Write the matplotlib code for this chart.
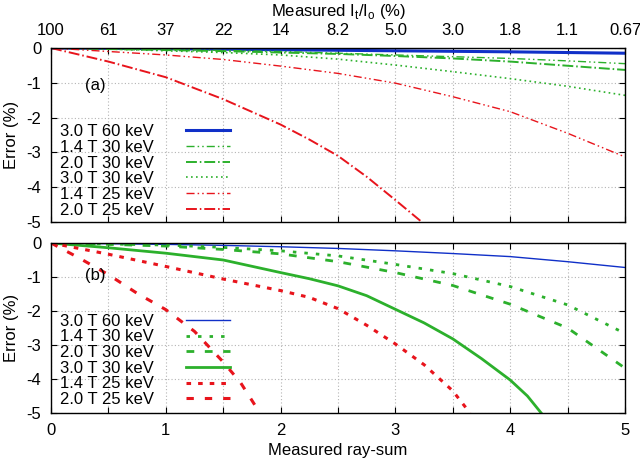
import matplotlib
matplotlib.use("Agg")
import matplotlib.pyplot as plt
from matplotlib.ticker import MultipleLocator

plt.rcParams['font.family'] = ['Liberation Sans', 'DejaVu Sans']
plt.rcParams['axes.unicode_minus'] = False

# ---------------- data ----------------
x_common = [0, 0.5, 1, 1.5, 2, 2.5, 3, 3.5, 4, 4.5, 5]

labels = ["3.0 T 60 keV", "1.4 T 30 keV", "2.0 T 30 keV",
          "3.0 T 30 keV", "1.4 T 25 keV", "2.0 T 25 keV"]

top_tick_positions = [0, 0.5, 1, 1.5, 2, 2.5, 3, 3.5, 4, 4.5, 5]
top_tick_labels = ["100", "61", "37", "22", "14", "8.2", "5.0", "3.0", "1.8", "1.1", "0.67"]

# panel (a)
a_3T_60 = [0, -0.01, -0.02, -0.035, -0.05, -0.065, -0.08, -0.095, -0.11, -0.13, -0.15]
a_14T_30 = [0, -0.02, -0.04, -0.07, -0.10, -0.15, -0.20, -0.25, -0.30, -0.37, -0.45]
a_2T_30 = [0, -0.03, -0.06, -0.09, -0.13, -0.17, -0.23, -0.30, -0.39, -0.51, -0.63]
a_3T_30 = [0, -0.03, -0.08, -0.13, -0.20, -0.32, -0.49, -0.68, -0.88, -1.10, -1.36]
a_14T_25 = [0, -0.10, -0.20, -0.33, -0.52, -0.73, -1.01, -1.40, -1.83, -2.45, -3.13]
a_2T_25_x = [0, 0.5, 1, 1.5, 2, 2.25, 2.5, 2.75, 3, 3.23]
a_2T_25 = [0, -0.39, -0.84, -1.47, -2.20, -2.63, -3.10, -3.70, -4.37, -5.0]

# panel (b)
b_3T_60 = [0, -0.02, -0.04, -0.07, -0.11, -0.16, -0.23, -0.31, -0.40, -0.55, -0.72]
b_14T_30 = [0, -0.03, -0.06, -0.13, -0.23, -0.38, -0.63, -0.90, -1.28, -1.82, -2.66]
b_2T_30 = [0, -0.04, -0.09, -0.19, -0.32, -0.55, -0.87, -1.25, -1.80, -2.50, -3.68]
b_3T_30_x = [0, 0.5, 1, 1.5, 2, 2.25, 2.5, 2.75, 3, 3.25, 3.5, 3.75, 4, 4.15, 4.27]
b_3T_30 = [0, -0.14, -0.30, -0.50, -0.87, -1.05, -1.26, -1.55, -1.95, -2.35, -2.82, -3.40, -4.03, -4.50, -5.0]
b_14T_25_x = [0, 0.5, 1, 1.5, 2, 2.25, 2.5, 2.75, 3, 3.25, 3.5, 3.65]
b_14T_25 = [0, -0.33, -0.69, -1.06, -1.40, -1.60, -1.93, -2.42, -2.97, -3.58, -4.35, -5.0]
b_2T_25_x = [0, 0.25, 0.5, 0.75, 1, 1.25, 1.5, 1.65, 1.82]
b_2T_25 = [0, -0.45, -0.93, -1.48, -1.96, -2.60, -3.50, -4.10, -5.0]

# ---------------- styles ----------------
BLUE = '#1030c8'
GREEN = '#2cb02c'
RED = '#e8141c'

fig = plt.figure(figsize=(6.4, 4.62), dpi=100)
ax1 = fig.add_axes([51/640, 1-222/462, 574/640, 174/462])
ax2 = fig.add_axes([51/640, 1-413/462, 574/640, 170/462])

FS = 12

def style_axes(ax):
    ax.set_xlim(0, 5)
    ax.set_ylim(-5, 0)
    ax.xaxis.set_major_locator(MultipleLocator(0.5))
    ax.yaxis.set_major_locator(MultipleLocator(1))
    ax.grid(True, color='#b4b4b4', linestyle=(0, (1, 2)), linewidth=0.8)
    ax.tick_params(direction='in', length=4, width=0.8, top=True, right=True,
                   labelsize=FS, pad=7)
    for s in ax.spines.values():
        s.set_linewidth(1.0)
    ax.set_ylabel("Error (%)", fontsize=FS, labelpad=5)

style_axes(ax1)
style_axes(ax2)

# panel (a)
ax1.plot(x_common, a_3T_60, color=BLUE, lw=2.2, label=labels[0])
ax1.plot(x_common, a_14T_30, color=GREEN, lw=1.0, dashes=(5.8, 2.2, 1.1, 2.2, 1.1, 2.2), label=labels[1])
ax1.plot(x_common, a_2T_30, color=GREEN, lw=1.4, dashes=(5.6, 1.5, 0.8, 1.5), label=labels[2])
ax1.plot(x_common, a_3T_30, color=GREEN, lw=1.2, dashes=(1, 2), label=labels[3])
ax1.plot(x_common, a_14T_25, color=RED, lw=1.0, dashes=(5.8, 2.2, 1.1, 2.2, 1.1, 2.2), label=labels[4])
ax1.plot(a_2T_25_x, a_2T_25, color=RED, lw=1.4, dashes=(5.6, 1.5, 0.8, 1.5), label=labels[5])

# panel (b)
ax2.plot(x_common, b_3T_60, color=BLUE, lw=1.0, label=labels[0])
ax2.plot(x_common, b_14T_30, color=GREEN, lw=2.0, dashes=(1.25, 2.9), label=labels[1])
ax2.plot(x_common, b_2T_30, color=GREEN, lw=2.0, dashes=(2.8, 3.8), label=labels[2])
ax2.plot(b_3T_30_x, b_3T_30, color=GREEN, lw=2.0, label=labels[3])
ax2.plot(b_14T_25_x, b_14T_25, color=RED, lw=2.2, dashes=(1.5, 2.3), label=labels[4])
ax2.plot(b_2T_25_x, b_2T_25, color=RED, lw=2.2, dashes=(2.4, 3.6), label=labels[5])

# x tick labels
ax1.set_xticks(top_tick_positions)
ax1.set_xticklabels(top_tick_labels)
ax1.tick_params(labeltop=True, labelbottom=False)
ax1.xaxis.set_label_position('top')
ax1.set_xlabel("Measured I$_\\mathregular{t}$/I$_\\mathregular{o}$ (%)", fontsize=FS, labelpad=5)

ax2.set_xticks(top_tick_positions)
ax2.set_xticklabels([("%d" % v) if float(v).is_integer() else "" for v in top_tick_positions])
ax2.set_xlabel("Measured ray-sum", fontsize=FS, labelpad=4)

for ax, tag, yy in ((ax1, "(a)", 0.787), (ax2, "(b)", 0.806)):
    ax.text(0.059, yy, tag, transform=ax.transAxes, fontsize=FS, va='center', ha='left')

legkw = dict(loc='lower left', frameon=False, markerfirst=False, fontsize=FS,
             handlelength=2.65, handletextpad=1.88, labelspacing=0.04,
             borderpad=0, borderaxespad=0)
ax1.legend(bbox_to_anchor=(0.016, 0.025), **legkw)
ax2.legend(bbox_to_anchor=(0.016, 0.035), **legkw)

fig.savefig("out.png", dpi=100)
